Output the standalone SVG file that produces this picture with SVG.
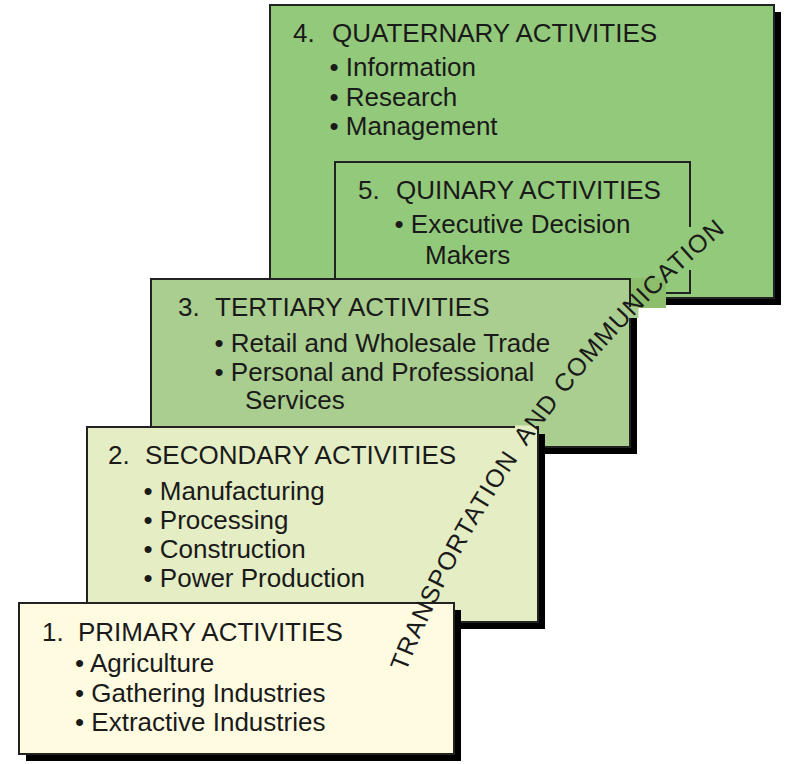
<svg xmlns="http://www.w3.org/2000/svg" width="796" height="764" viewBox="0 0 796 764">
<style>
.shadow{fill:#000}
.box{stroke:#222;stroke-width:2}
.q4{fill:#93C97A}
.t3{fill:#AACE90}
.s2{fill:#E4EDC4}
.p1{fill:#FEFBE1}
text{font-family:"Liberation Sans",Arial,Helvetica,sans-serif;font-size:26px;fill:#1a1a1a}
.band{font-size:25px;letter-spacing:1.2px}
</style>
<defs>
<path id="arc" d="M 373.8 767.3 A 1080 1080 0 0 1 808.1 169.7"/>
</defs>
<rect width="796" height="764" fill="#fff"/>
<g id="quaternary">
<rect class="shadow" x="277" y="12" width="504" height="293"/>
<rect class="box q4" x="270" y="5" width="504" height="293"/>
<text y="42"><tspan x="293">4. </tspan><tspan x="332">QUATERNARY ACTIVITIES</tspan></text>
<text x="329.5" y="76">• Information</text>
<text x="329.5" y="106">• Research</text>
<text x="329.5" y="135">• Management</text>
</g>
<g id="quinary">
<rect class="box" fill="none" x="335" y="162" width="355" height="131"/>
<text y="199"><tspan x="358">5. </tspan><tspan x="396">QUINARY ACTIVITIES</tspan></text>
<text x="394.5" y="233">• Executive Decision</text>
<text x="425" y="264">Makers</text>
</g>
<g id="tertiary">
<rect class="shadow" x="158" y="286" width="479" height="168"/>
<rect class="box t3" x="151" y="279" width="479" height="168"/>
<text y="316"><tspan x="178">3. </tspan><tspan x="215">TERTIARY ACTIVITIES</tspan></text>
<text x="214.5" y="352">• Retail and Wholesale Trade</text>
<text x="214.5" y="381">• Personal and Professional</text>
<text x="245" y="409">Services</text>
</g>
<g id="secondary">
<rect class="shadow" x="94" y="434" width="451" height="195"/>
<rect class="box s2" x="87" y="427" width="451" height="195"/>
<text y="464"><tspan x="108">2. </tspan><tspan x="145">SECONDARY ACTIVITIES</tspan></text>
<text x="143.5" y="500">• Manufacturing</text>
<text x="143.5" y="529">• Processing</text>
<text x="143.5" y="558">• Construction</text>
<text x="143.5" y="587">• Power Production</text>
</g>
<g id="primary">
<rect class="shadow" x="26" y="610" width="435" height="151"/>
<rect class="box p1" x="19" y="603" width="435" height="151"/>
<text y="641"><tspan x="42">1. </tspan><tspan x="78">PRIMARY ACTIVITIES</tspan></text>
<text x="75" y="672">• Agriculture</text>
<text x="75" y="702">• Gathering Industries</text>
<text x="75" y="731">• Extractive Industries</text>
</g>
<g id="band-label">
<rect x="631" y="278" width="35" height="30" fill="#8CBE6B"/>
<rect x="628.5" y="307" width="10" height="11" class="t3"/>
<rect x="686" y="227" width="8" height="43" class="q4"/>
<rect x="515" y="425.5" width="21" height="3" class="s2"/>
<text class="band"><textPath href="#arc" startOffset="100">TRANSPORTATION</textPath></text>
<text class="band"><textPath href="#arc" startOffset="356.5">AND</textPath></text>
<text class="band"><textPath href="#arc" startOffset="421.5">COMMUNICATION</textPath></text>
</g>
</svg>
